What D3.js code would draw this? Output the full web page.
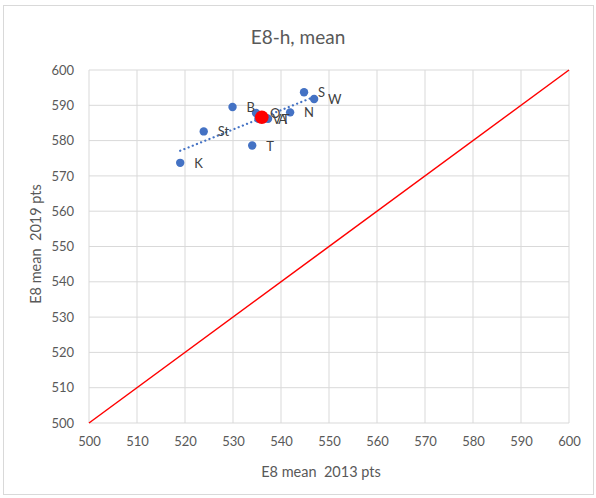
<!DOCTYPE html>
<html><head><meta charset="utf-8">
<script src="https://cdn.jsdelivr.net/npm/d3@7"></script>
<style>body{margin:0;background:#fff}svg{display:block}text{font-family:Lato,"Open Sans",sans-serif}</style>
</head><body>
<script>
const names = ["K","St","B","T","O","V","A","T","N","S","W"];
const x2013 = [519.0,523.9,529.9,534.0,534.8,535.3,536.5,537.3,541.9,544.8,546.9];
const y2019 = [573.7,582.6,589.5,578.6,587.8,586.2,586.2,586.2,588.0,593.7,591.8];
const meanPoint = {x:536.0, y:586.6};
const ticks = [500,510,520,530,540,550,560,570,580,590,600];
const title = "E8-h, mean", xTitle = "E8 mean  2013 pts", yTitle = "E8 mean  2019 pts";

const W=596,H=498;
const svg=d3.select("body").append("svg").attr("width",W).attr("height",H);
svg.append("rect").attr("x",3.5).attr("y",5.5).attr("width",590).attr("height",489).attr("fill","#fff").attr("stroke","#d9d9d9");
const x=d3.scaleLinear().domain([500,600]).range([89,569]);
const y=d3.scaleLinear().domain([500,600]).range([423,70]);

// grid
svg.append("g").selectAll("line").data(ticks).join("line")
 .attr("x1",d=>x(d)).attr("x2",d=>x(d)).attr("y1",y(600)).attr("y2",y(500)).attr("stroke","#d9d9d9");
svg.append("g").selectAll("line").data(ticks).join("line")
 .attr("y1",d=>y(d)).attr("y2",d=>y(d)).attr("x1",x(500)).attr("x2",x(600)).attr("stroke","#d9d9d9");

const xa=svg.append("g").attr("transform",`translate(0,${y(500)})`).call(d3.axisBottom(x).tickValues(ticks).tickSize(0).tickPadding(14));
const ya=svg.append("g").attr("transform",`translate(${x(500)},0)`).call(d3.axisLeft(y).tickValues(ticks).tickSize(0).tickPadding(15));
[xa,ya].forEach(a=>{a.select(".domain").remove();a.selectAll("text").attr("fill","#595959").attr("font-size",13).attr("font-family","Lato,'Open Sans',sans-serif");});

// y=x line
svg.append("line").attr("x1",x(500)).attr("y1",y(500)).attr("x2",x(600)).attr("y2",y(600)).attr("stroke","#ff0000").attr("stroke-width",1.5);

// trendline (linear regression)
const n=x2013.length, mx=d3.mean(x2013), my=d3.mean(y2019);
let sxy=0,sxx=0; for(let i=0;i<n;i++){sxy+=(x2013[i]-mx)*(y2019[i]-my);sxx+=(x2013[i]-mx)**2;}
const b=sxy/sxx, a0=my-b*mx;
const [xmin,xmax]=d3.extent(x2013);
svg.append("line").attr("x1",x(xmin)).attr("y1",y(a0+b*xmin)).attr("x2",x(xmax)).attr("y2",y(a0+b*xmax))
 .attr("stroke","#4472c4").attr("stroke-width",2.2).attr("stroke-dasharray","0.1,4.4").attr("stroke-linecap","round");

const pts=names.map((nm,i)=>({nm,x:x2013[i],y:y2019[i]}));
svg.append("g").selectAll("circle").data(pts).join("circle").attr("cx",d=>x(d.x)).attr("cy",d=>y(d.y)).attr("r",4.2).attr("fill","#4472c4");
svg.append("circle").attr("cx",x(meanPoint.x)).attr("cy",y(meanPoint.y)).attr("r",6.8).attr("fill","#ff0000");
svg.append("g").selectAll("text").data(pts).join("text").attr("x",d=>x(d.x)+14).attr("y",d=>y(d.y)+5)
 .attr("font-size",13).attr("fill","#404040").text(d=>d.nm);

svg.append("text").attr("x",298).attr("y",44).attr("text-anchor","middle").attr("font-size",19).attr("fill","#595959").text(title);
svg.append("text").attr("x",321).attr("y",477).attr("text-anchor","middle").attr("font-size",14.5).attr("fill","#595959").style("white-space","pre").text(xTitle);
svg.append("text").attr("transform","translate(41,244) rotate(-90)").attr("text-anchor","middle").attr("font-size",14.5).attr("fill","#595959").style("white-space","pre").text(yTitle);
</script>
</body></html>
